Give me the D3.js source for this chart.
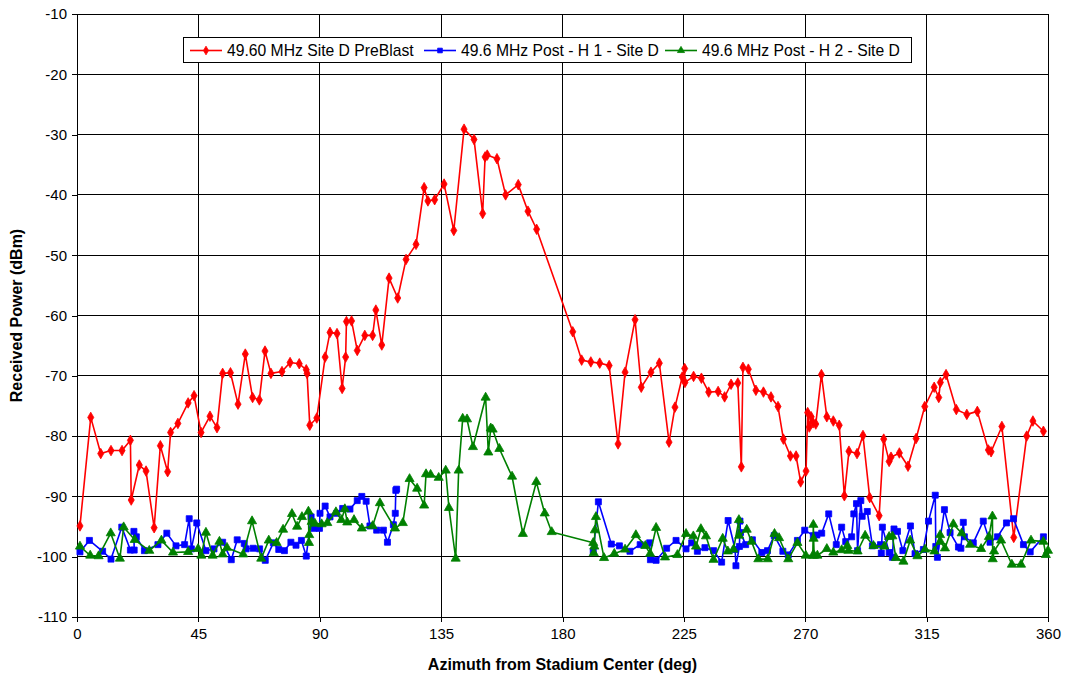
<!DOCTYPE html>
<html><head><meta charset="utf-8">
<script src="https://cdn.jsdelivr.net/npm/d3@7"></script>
<style>body{margin:0;background:#fff}svg{display:block;font-family:"Liberation Sans",Arial,sans-serif}</style>
</head><body>
<svg id="chart" width="1067" height="680"></svg>
<script>
const xTicks = [0,45,90,135,180,225,270,315,360];
const yTicks = [-10,-20,-30,-40,-50,-60,-70,-80,-90,-100,-110];
const seriesNames = ["49.60 MHz Site D PreBlast","49.6 MHz Post - H 1 - Site D","49.6 MHz Post - H 2 - Site D"];

const redAz = [1.1,5.1,8.8,12.6,16.7,19.8,20.1,23.1,25.6,28.6,30.9,33.6,34.7,37.4,41.2,43.4,46.0,49.3,51.9,54.0,56.9,59.7,62.4,65.1,67.6,69.7,71.9,76.0,79.0,82.4,85.0,85.3,86.3,88.9,92.0,93.8,96.4,98.3,99.6,99.9,101.8,103.9,106.7,109.6,110.8,113.0,115.7,118.9,122.0,125.7,128.7,130.1,132.6,136.1,139.7,143.5,147.2,150.4,151.3,152.1,155.7,158.9,163.6,167.2,170.4,183.8,187.1,190.5,193.8,197.3,200.6,203.2,206.9,209.2,212.8,215.9,219.5,221.7,224.4,225.3,225.4,228.6,231.5,234.2,237.7,240.1,242.5,245.0,246.3,246.9,248.9,251.7,254.5,257.3,259.9,261.9,264.5,266.6,268.3,270.3,270.9,271.5,272.2,272.9,273.9,276.0,278.0,280.4,282.6,284.5,286.2,289.2,291.4,293.9,297.4,299.1,301.1,301.8,304.9,308.1,311.1,314.3,317.8,319.5,320.1,322.2,326.0,329.9,333.8,337.9,338.9,342.9,347.3,352.1,354.4,358.3];
const redPw = [-94.9,-76.9,-82.9,-82.4,-82.4,-80.7,-90.6,-84.8,-85.8,-95.2,-81.6,-85.9,-79.4,-77.9,-74.5,-73.3,-79.4,-76.7,-78.6,-69.6,-69.5,-74.7,-66.4,-73.6,-74.0,-65.9,-69.6,-69.3,-67.8,-68.0,-69.0,-69.6,-78.2,-77.0,-66.9,-62.8,-63.0,-72.1,-66.9,-61.0,-60.9,-65.8,-63.3,-63.3,-59.1,-64.9,-53.8,-57.1,-50.7,-48.2,-38.8,-41.0,-40.8,-38.2,-45.9,-29.1,-30.8,-43.1,-33.7,-33.4,-34.0,-40.0,-38.3,-42.7,-45.7,-62.7,-67.4,-67.7,-67.9,-68.3,-81.3,-69.4,-60.7,-71.9,-69.4,-67.9,-81.0,-75.2,-70.2,-68.8,-71.1,-70.1,-70.4,-72.7,-72.6,-73.5,-71.4,-71.2,-85.1,-68.6,-68.9,-72.4,-72.7,-73.5,-75.1,-80.5,-83.3,-83.3,-87.6,-85.8,-76.1,-78.5,-76.8,-77.8,-78.0,-69.8,-76.8,-77.5,-78.2,-89.9,-82.5,-82.9,-79.9,-90.2,-93.2,-80.5,-84.2,-83.5,-82.8,-85.0,-80.4,-75.1,-71.9,-73.6,-71.1,-69.8,-75.6,-76.4,-75.9,-82.3,-82.6,-78.4,-96.8,-80.0,-77.5,-79.2];

// null marks the gap where the H1 series has no readings
const blueAz = [1.1,4.6,9.5,12.6,16.6,19.8,21.2,21.1,22.0,25.0,30.0,33.3,36.7,39.9,41.6,42.4,44.4,47.8,50.8,54.0,57.2,59.4,62.0,62.7,65.3,67.7,69.8,72.8,74.8,76.9,79.3,81.2,83.2,85.0,86.8,87.9,89.9,90.1,92.0,93.8,96.3,98.5,101.2,103.9,105.6,107.2,108.6,111.1,113.6,115.1,117.3,118.0,118.2,118.5,null,191.4,193.3,198.1,201.1,205.0,208.8,212.3,212.6,214.7,218.6,222.1,225.8,227.9,230.0,232.8,236.0,239.0,241.4,244.0,244.3,245.6,245.8,246.0,247.9,250.4,253.9,256.0,258.5,261.7,263.7,267.1,269.8,273.0,274.3,276.1,278.7,281.5,283.5,285.0,287.2,288.0,289.0,289.4,290.6,291.1,293.0,294.9,297.9,298.2,298.6,301.1,302.3,302.9,304.2,306.2,309.0,310.7,313.8,315.7,318.2,318.4,319.0,321.6,323.7,326.8,327.7,328.6,329.0,332.3,336.0,338.5,341.3,344.6,347.2,350.9,353.4,358.3];
const bluePw = [-99.2,-97.3,-99.1,-100.4,-95.1,-98.9,-98.9,-95.8,-96.7,-99.0,-98.0,-96.1,-98.2,-98.0,-93.7,-98.7,-94.4,-99.0,-98.7,-97.6,-100.5,-97.2,-97.8,-98.7,-98.6,-98.7,-100.6,-97.7,-98.8,-99.0,-97.6,-98.1,-97.3,-99.9,-93.4,-95.3,-95.3,-92.8,-91.6,-93.4,-92.8,-92.0,-92.1,-90.7,-90.0,-90.8,-94.9,-95.6,-95.6,-97.6,-94.7,-92.8,-89.0,-88.8,null,-99.1,-90.9,-97.9,-98.2,-99.1,-98.0,-97.7,-100.5,-100.6,-98.6,-97.3,-98.7,-97.7,-99.1,-98.5,-99.0,-100.9,-94.0,-98.8,-101.5,-98.3,-94.1,-96.0,-98.0,-97.2,-99.3,-99.0,-96.5,-99.1,-99.7,-97.3,-95.6,-96.5,-96.4,-96.1,-92.9,-98.0,-95.1,-97.5,-96.7,-92.9,-91.2,-99.0,-90.7,-93.3,-92.5,-98.2,-98.0,-99.4,-95.1,-99.3,-100.1,-95.4,-95.8,-99.0,-94.9,-99.5,-98.8,-94.1,-89.8,-98.3,-100.1,-92.2,-96.0,-98.4,-98.6,-94.3,-96.7,-97.7,-94.1,-97.6,-96.7,-94.4,-93.7,-98.0,-99.2,-96.7];

const greenAz = [1.1,4.9,8.0,12.5,15.9,17.3,21.4,26.8,31.3,35.6,41.2,44.9,46.1,47.8,50.3,52.8,54.0,55.6,61.6,64.9,68.3,71.1,74.0,76.4,79.7,81.6,83.4,85.8,86.0,86.1,87.0,88.2,90.7,92.8,96.0,98.0,99.3,100.2,102.7,105.6,109.6,112.3,117.9,120.8,123.3,126.1,128.7,129.4,131.1,134.1,136.7,137.9,140.4,141.5,143.0,144.6,146.8,151.5,152.5,153.4,154.1,156.6,161.3,165.3,170.3,173.4,176.0,191.4,191.6,191.8,192.0,192.4,195.4,199.2,203.2,207.2,210.7,212.5,214.7,218.0,222.6,225.8,228.5,229.5,231.3,233.2,236.0,239.4,241.3,243.4,245.4,245.5,248.3,250.1,252.6,256.1,258.6,260.3,263.7,267.1,270.2,272.8,273.0,273.1,273.3,274.5,278.0,280.4,283.5,285.6,286.0,289.4,292.2,295.3,299.3,301.1,302.3,303.6,306.4,308.9,311.6,314.4,317.9,320.0,320.1,321.8,324.9,328.0,331.1,335.2,338.1,339.4,339.5,340.0,342.6,346.6,350.0,353.7,358.3,359.2,360.0];
const greenPw = [-98.3,-99.8,-99.9,-96.1,-100.3,-95.1,-97.2,-99.0,-97.3,-99.3,-99.2,-98.7,-99.8,-96.0,-99.8,-97.5,-99.6,-98.5,-99.6,-94.1,-100.3,-97.3,-97.7,-95.5,-92.9,-95.0,-93.4,-92.5,-97.7,-96.4,-94.2,-94.5,-94.6,-94.4,-92.6,-93.9,-92.1,-94.3,-93.9,-95.3,-94.9,-91.1,-95.3,-94.4,-87.1,-88.7,-91.5,-86.3,-86.4,-86.9,-85.7,-91.9,-100.3,-85.7,-77.1,-77.2,-81.8,-73.6,-82.7,-78.7,-78.9,-82.1,-86.7,-96.2,-87.6,-92.8,-95.9,-97.7,-99.4,-98.3,-95.6,-93.4,-100.2,-99.5,-98.8,-96.4,-98.2,-99.5,-95.2,-100.1,-99.7,-96.2,-96.6,-98.3,-95.4,-96.6,-100.5,-97.0,-99.1,-98.8,-93.9,-96.5,-95.5,-97.5,-100.4,-100.4,-96.2,-96.9,-100.4,-97.7,-99.8,-99.8,-94.7,-97.0,-99.8,-99.8,-98.7,-99.3,-98.9,-98.2,-99.0,-99.1,-96.5,-98.2,-98.3,-96.7,-96.6,-100.2,-100.8,-97.3,-99.9,-98.8,-99.1,-96.4,-97.5,-98.6,-94.6,-96.1,-98.0,-98.7,-96.7,-93.3,-100.4,-99.1,-97.3,-101.3,-101.3,-97.3,-97.5,-99.7,-99.0];

const colors = ["#ff0000","#0000ff","#008000"];

const svg = d3.select("#chart");
const L = 77, R = 1048, T = 14, B = 617;
const x = d3.scaleLinear().domain([0,360]).range([L,R]);
const y = d3.scaleLinear().domain([-110,-10]).range([B,T]);

// gridlines
const grid = svg.append("g").attr("shape-rendering","crispEdges");
grid.selectAll(".hg").data(yTicks).join("line")
  .attr("x1",L).attr("x2",R).attr("y1",d=>y(d)).attr("y2",d=>y(d))
  .attr("stroke","#000").attr("stroke-width",1);
grid.selectAll(".vg").data(xTicks).join("line")
  .attr("y1",T).attr("y2",B).attr("x1",d=>x(d)).attr("x2",d=>x(d))
  .attr("stroke","#000").attr("stroke-width",1);

// axes
const yAxis = svg.append("g").attr("transform",`translate(${L},0)`)
  .call(d3.axisLeft(y).tickValues(yTicks).tickSize(5).tickPadding(5).tickFormat(d=>String(d)));
const xAxis = svg.append("g").attr("transform",`translate(0,${B})`)
  .call(d3.axisBottom(x).tickValues(xTicks).tickSize(5).tickPadding(6).tickFormat(d=>String(d)));
[yAxis,xAxis].forEach(a=>{
  a.selectAll("path,line").attr("stroke","#000").attr("shape-rendering","crispEdges");
  a.selectAll("text").attr("font-size","15px").attr("fill","#000")
   .attr("font-family","'Liberation Sans',Arial,sans-serif");
});

svg.append("text").attr("x",(L+R)/2).attr("y",670).attr("text-anchor","middle")
  .attr("font-size","16px").attr("font-weight","bold").text("Azimuth from Stadium Center (deg)");
svg.append("text").attr("transform",`translate(22,${(T+B)/2}) rotate(-90)`).attr("text-anchor","middle")
  .attr("font-size","16px").attr("font-weight","bold").text("Received Power (dBm)");

// series
const mk = (az,pw)=>az.map((a,i)=>({a, p: pw[i]}));
const data = [mk(redAz,redPw), mk(blueAz,bluePw), mk(greenAz,greenPw)];
const line = d3.line().defined(d=>d.a!==null && d.p!==null).x(d=>x(d.a)).y(d=>y(d.p));
const symbols = [d3.symbolDiamond, d3.symbolSquare, d3.symbolTriangle];
const sizes = [32, 36, 36];

const plot = svg.append("g");
data.forEach((ser,i)=>{
  const g = plot.append("g");
  g.append("path").datum(ser).attr("d",line).attr("fill","none")
    .attr("stroke",colors[i]).attr("stroke-width",1.6).attr("stroke-linejoin","round");
  g.selectAll("path.m").data(ser.filter(d=>d.a!==null)).join("path").attr("class","m")
    .attr("d",d3.symbol().type(symbols[i]).size(sizes[i]))
    .attr("transform",d=>`translate(${x(d.a)},${y(d.p)})`)
    .attr("fill",colors[i]).attr("stroke",colors[i]).attr("stroke-width",0.8);
});

// legend
const lg = svg.append("g");
lg.append("rect").attr("x",183.5).attr("y",37.5).attr("width",728).attr("height",25)
  .attr("fill","#fff").attr("stroke","#000").attr("stroke-width",1);
const legX = [190, 424, 665];
seriesNames.forEach((n,i)=>{
  const g = lg.append("g").attr("transform",`translate(${legX[i]},50.5)`);
  g.append("line").attr("x1",0).attr("x2",32).attr("stroke",colors[i]).attr("stroke-width",1.6);
  g.append("path").attr("d",d3.symbol().type(symbols[i]).size(22)()).attr("transform","translate(16,0)")
    .attr("fill",colors[i]).attr("stroke",colors[i]).attr("stroke-width",0.8);
  g.append("text").attr("x",37).attr("y",5.5).attr("font-size","15.7px").text(n);
});
</script>
</body></html>
